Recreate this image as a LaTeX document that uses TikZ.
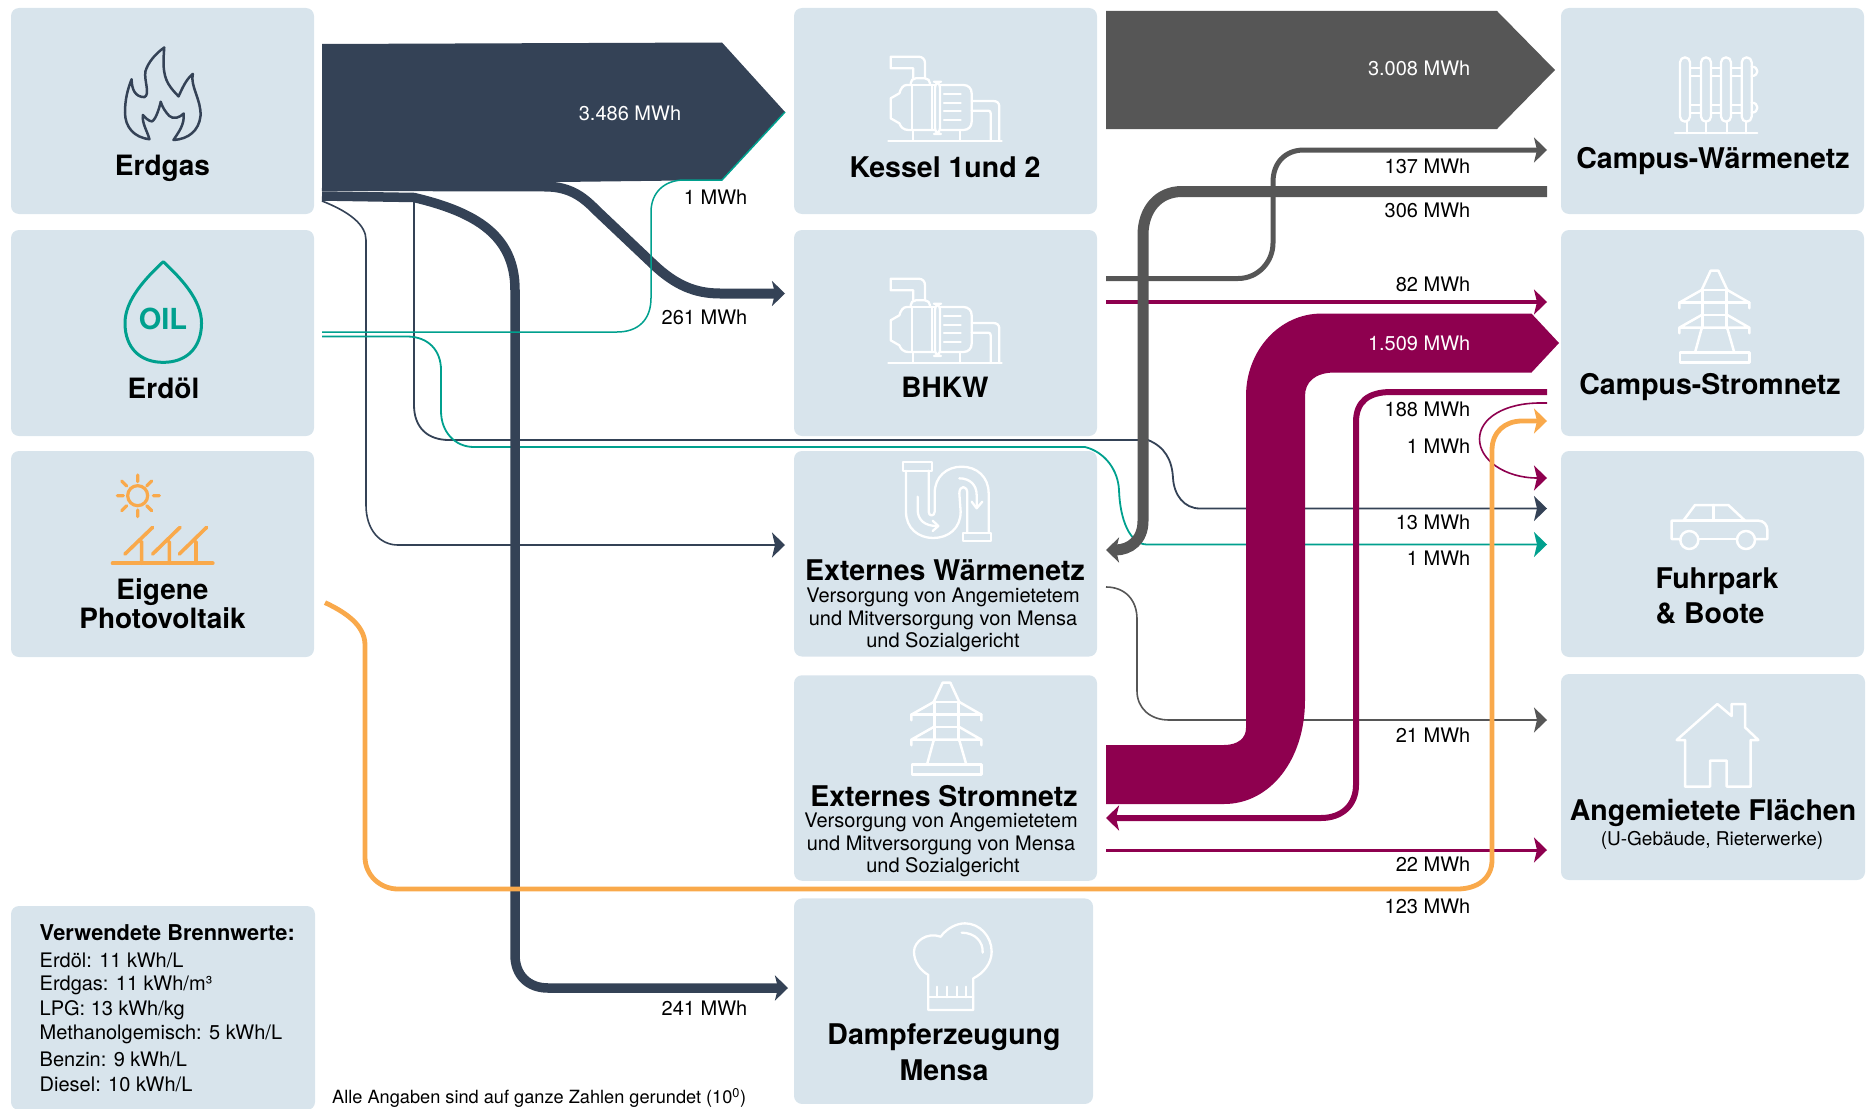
\documentclass[tikz,border=0pt]{standalone}
\usepackage{fontspec}
\setmainfont{TeX Gyre Heros}
\usetikzlibrary{arrows.meta}
\definecolor{boxblue}{HTML}{D8E4EC}
\definecolor{gasdark}{HTML}{344256}
\definecolor{heatgrey}{HTML}{565656}
\definecolor{powerred}{HTML}{8E004F}
\definecolor{oilteal}{HTML}{00A08E}
\definecolor{pvorange}{HTML}{F9A94B}
\tikzset{
  box/.style={rectangle,rounded corners=8pt,fill=boxblue,inner sep=0pt,minimum width=303pt,minimum height=206pt},
  title/.style={font=\fontsize{28.5}{33}\selectfont\bfseries,text=black,inner sep=0pt,anchor=center},
  sub/.style={font=\fontsize{20}{23}\selectfont,text=black,inner sep=0pt,anchor=center},
  val/.style={font=\fontsize{20}{23}\selectfont,text=black,inner sep=0pt,anchor=east},
  valw/.style={font=\fontsize{20}{23}\selectfont,text=white,inner sep=0pt,anchor=east},
  legend/.style={font=\fontsize{20}{23}\selectfont,text=black,inner sep=0pt,anchor=west},
  flowhead/.style={-{Stealth[length=13pt,width=25pt,inset=3pt]}},
  flow/.style={line cap=butt,line join=round},
  icon/.style={draw=white,line width=2.3pt,line join=round,line cap=round},
}
\newcommand{\pumpicon}[2]{\begin{scope}[shift={(#1,#2)},x=.3333pt,y=-.3333pt,icon]
  \draw (55,303)--(395,303);
  \draw (130,115)--(130,85)--(62,85)--(62,50)--(145,50) .. controls (158,50) and (165,58) .. (165,70)--(165,115);
  \draw[rounded corners=5pt] (122,133)--(122,115)--(180,115)--(180,133);
  \draw (122,135)--(110,135) .. controls (100,135) and (92,145) .. (88,160)--(62,175)--(62,235)--(88,250) .. controls (92,262) and (102,270) .. (115,270)--(195,270);
  \draw (125,135)--(125,270) (187,135)--(187,270) (122,135)--(195,135);
  \draw[rounded corners=6pt] (195,125) rectangle (210,282);
  \draw (210,135)--(280,135) .. controls (295,135) and (305,145) .. (305,160)--(305,245) .. controls (305,260) and (295,270) .. (280,270)--(210,270);
  \draw (222,163)--(272,163) (222,188)--(272,188) (222,214)--(272,214) (222,240)--(272,240);
  \draw (130,270)--(130,303) (270,270)--(270,303);
  \draw (305,183)--(370,183) .. controls (382,183) and (388,190) .. (388,200)--(388,303);
  \draw (305,212)--(355,212) .. controls (360,212) and (362,215) .. (362,220)--(362,303);
\end{scope}}
\newcommand{\pylonicon}[2]{\begin{scope}[shift={(#1,#2)},x=.3333pt,y=-.3333pt,icon,line width=2.5pt]
  \draw (118,145)--(118,128)--(185,90)--(212,32)--(235,32)--(262,90)--(328,128)--(328,145);
  \draw (185,90)--(262,90) (118,128)--(328,128) (185,165)--(262,165);
  \draw (118,220)--(118,203)--(185,165) (262,165)--(328,203)--(328,220) (118,203)--(328,203);
  \draw (188,90)--(188,205) (260,90)--(260,205);
  \draw (185,205)--(165,278) (262,205)--(283,278);
  \draw (120,278) rectangle (328,308);
\end{scope}}
\begin{document}
\begin{tikzpicture}[x=1pt,y=-1pt]
\useasboundingbox (0,0) rectangle (1868,1108);
% boxes
\node[box] (erdgas) at (162.5,111) {};
\node[box] (erdoel) at (162.5,333) {};
\node[box] (pv) at (162.5,554) {};
\node[box,minimum height=204pt,minimum width=304pt] (werte) at (163,1008) {};
\node[box] (kessel) at (945.5,111) {};
\node[box] (bhkw) at (945.5,333) {};
\node[box,minimum height=205.5pt] (extw) at (945.5,553.75) {};
\node[box,minimum height=205.5pt] (exts) at (945.5,778) {};
\node[box,minimum width=299pt,minimum height=205.5pt] (dampf) at (943.5,1001.2) {};
\node[box] (campw) at (1712.5,111) {};
\node[box] (camps) at (1712.5,333) {};
\node[box] (fuhr) at (1712.5,554) {};
\node[box,minimum width=304pt] (miet) at (1713,777) {};
% icons
\begin{scope}[x=.5102pt,y=-.357pt,draw=gasdark,line width=2.5pt,line join=round]
\draw (293,390) .. controls (262,385) and (245,355) .. (245,315) .. controls (245,280) and (250,250) .. (258,222)
 .. controls (258,250) and (265,272) .. (283,272) .. controls (295,265) and (282,225) .. (285,200) .. controls (290,175) and (305,150) .. (322,133)
 .. controls (320,170) and (318,205) .. (330,235) .. controls (336,250) and (345,262) .. (350,270) .. controls (358,245) and (365,222) .. (378,207)
 .. controls (372,240) and (395,280) .. (393,325) .. controls (390,365) and (370,390) .. (340,392)
 .. controls (350,370) and (362,350) .. (360,318) .. controls (352,330) and (340,335) .. (332,325) .. controls (325,315) and (318,300) .. (315,285)
 .. controls (312,305) and (305,335) .. (298,340) .. controls (292,340) and (285,330) .. (280,322) .. controls (278,345) and (288,365) .. (293,390) -- cycle;
\end{scope}
\begin{scope}[x=.5102pt,y=-.357pt,draw=oilteal,line width=3pt,line join=round]
\draw (320,733) .. controls (285,780) and (245,840) .. (245,905) .. controls (245,975) and (275,1015) .. (320,1015) .. controls (365,1015) and (395,975) .. (395,905) .. controls (395,840) and (355,780) .. (320,733) -- cycle;
\end{scope}
\node[font=\fontsize{29}{30}\selectfont\bfseries,text=oilteal,inner sep=0pt] (oiltext) at (163,319) {OIL};
\begin{scope}[shift={(90,460)},x=.3333pt,y=-.3333pt,draw=pvorange,line cap=round,line width=3.2pt]
\draw (143,107) circle[radius=10pt];
\draw (143,45)--(143,65) (143,150)--(143,170) (82,107)--(100,107) (190,107)--(208,107) (95,63)--(110,78) (185,63)--(170,78) (95,152)--(110,137) (185,152)--(170,137);
\draw[line width=4pt] (68,310)--(368,310);
\draw[line width=3.6pt] (105,282)--(188,202) (188,282)--(270,202) (268,282)--(350,202) (155,245)--(155,310) (238,245)--(238,310) (318,245)--(318,310);
\end{scope}
\pumpicon{870}{40}
\pumpicon{870}{262}
\begin{scope}[shift={(1640,40)},x=.3333pt,y=-.3333pt,icon]
\foreach \a/\b in {120/150,183/213,243/273,305/335}{\draw[rounded corners=5pt] (\a,52) rectangle (\b,245);}
\foreach \a/\b in {150/183,213/243,273/305}{\draw (\a,85)--(\b,85) (\a,108)--(\b,108) (\a,195)--(\b,195) (\a,218)--(\b,218);}
\draw (335,80) .. controls (358,80) and (358,108) .. (335,108);
\draw (335,188) .. controls (358,188) and (358,218) .. (335,218);
\draw (140,245)--(140,280) (197,245)--(197,280) (260,245)--(260,280) (317,245)--(317,280) (105,280)--(352,280);
\end{scope}
\pylonicon{1640}{260}
\pylonicon{872}{672}
\begin{scope}[shift={(870,450)},x=.3333pt,y=-.3333pt,icon]
\draw (100,35) rectangle (185,62);
\draw (280,248) rectangle (362,273);
\draw (108,62)--(108,185) .. controls (108,235) and (145,264) .. (190,264) .. controls (235,264) and (272,235) .. (272,185)--(268,130) .. controls (268,105) and (292,105) .. (292,130)--(292,248);
\draw (176,62)--(176,185) .. controls (176,200) and (194,200) .. (194,185)--(194,130) .. controls (194,80) and (230,50) .. (275,50) .. controls (320,50) and (356,80) .. (356,130)--(356,248);
\draw (143,140)--(143,180) .. controls (143,210) and (165,228) .. (200,228);
\draw (188,212)--(205,228)--(188,243);
\draw (268,85) .. controls (300,85) and (320,105) .. (320,135)--(320,170);
\draw (305,155)--(320,175)--(337,155);
\end{scope}
\begin{scope}[shift={(1650,490)},x=.3333pt,y=-.3333pt,icon,line width=2.5pt]
\draw (92,147)--(65,147)--(65,92)--(100,92)--(135,45)--(235,45)--(285,92)--(325,92) .. controls (342,92) and (352,105) .. (352,120)--(352,147)--(315,147);
\draw (100,92)--(285,92) (190,45)--(190,92) (145,147)--(262,147);
\draw (118,150) circle[radius=9pt] (288,150) circle[radius=9pt];
\end{scope}
\begin{scope}[shift={(1660,690)},x=.3333pt,y=-.3333pt,icon,line width=2.5pt]
\draw (50,150)--(172,42)--(215,78)--(215,42)--(255,42)--(255,112)--(295,150)--(272,150)--(272,290)--(200,290)--(200,212)--(150,212)--(150,290)--(75,290)--(75,150)--cycle;
\end{scope}
\begin{scope}[shift={(890,910)},x=.3333pt,y=-.3333pt,icon]
\draw (115,300)--(115,195) .. controls (90,180) and (72,155) .. (72,125) .. controls (72,95) and (110,65) .. (152,80) .. controls (170,55) and (200,40) .. (225,40) .. controls (270,40) and (305,80) .. (305,125) .. controls (305,160) and (280,190) .. (250,205)--(250,300)--cycle;
\draw (115,262)--(250,262) (140,230)--(140,262) (170,230)--(170,262) (200,230)--(200,262) (228,230)--(228,262);
\draw (215,68) .. controls (255,68) and (280,95) .. (278,128);
\end{scope}
% named ends
\coordinate (gasA) at (322,186);
\coordinate (gasB) at (322,196);
\coordinate (gasC) at (322,201);
\coordinate (gasD) at (414,195);
\coordinate (bhkwIn) at (785,293.5);
\coordinate (dampfIn) at (788,988);
\coordinate (extwIn) at (785,545);
\coordinate (fuhrGas) at (1547,508.5);
\coordinate (oilA) at (322,332);
\coordinate (oilB) at (322,336.5);
\coordinate (fuhrOil) at (1547,544.5);
\coordinate (heatA) at (1106,278.5);
\coordinate (heatAend) at (1547,150);
\coordinate (heatB) at (1547,191.5);
\coordinate (extwHeat) at (1106,550);
\coordinate (bhkwP) at (1106,302);
\coordinate (campsBhkw) at (1547,302);
\coordinate (extwOut) at (1106,587);
\coordinate (mietHeat) at (1547,720);
\coordinate (extsOut) at (1106,850);
\coordinate (mietP) at (1547,850);
\coordinate (campsA) at (1547,392);
\coordinate (extsIn) at (1106,818);
\coordinate (campsB) at (1547,403);
\coordinate (fuhrP) at (1547,478);
\coordinate (pvOut) at (325,602.6);
\coordinate (campsPv) at (1547,421);
% thin gas and oil
\draw[flow,draw=gasdark,line width=1.6pt,flowhead] (gasC) .. controls (350,212) and (366,225) .. (366,240) -- (366,505) .. controls (366,530) and (380,545) .. (398,545) -- (extwIn);
\draw[flow,draw=gasdark,line width=1.8pt,flowhead] (gasD) -- (414,405) .. controls (414,428) and (428,440) .. (449,440) -- (1148,440) .. controls (1165,447) and (1172,460) .. (1173,478) .. controls (1174,495) and (1184,508.5) .. (1200,508.5) -- (fuhrGas);
\draw[flow,draw=oilteal,line width=1.8pt,flowhead] (oilB) -- (408,336.5) .. controls (428,337) and (441,350) .. (441,370) -- (441,411) .. controls (441,432) and (455,447) .. (474,447) -- (1085,447) .. controls (1105,452) and (1118,470) .. (1119,490) .. controls (1120,520) and (1130,544.5) .. (1147,544.5) -- (fuhrOil);
% gas main
\fill[gasdark] (322,44) -- (722,42.5) -- (785,112) -- (722,180) -- (560,182) -- (322,182.5) -- cycle;
\draw[flow,draw=gasdark,line width=10pt,flowhead] (gasA) -- (545,186.5) .. controls (572,186.5) and (585,199) .. (597,211) -- (653,264) .. controls (675,285) and (695,293.5) .. (720,293.5) -- (bhkwIn);
\draw[flow,draw=gasdark,line width=9.5pt,flowhead] (gasB) -- (414,197.5) .. controls (475,212) and (515,235) .. (515,290) -- (515,955) .. controls (515,975) and (528,988) .. (548,988) -- (dampfIn);
\draw[flow,draw=oilteal,line width=1.5pt] (oilA) -- (617,332) .. controls (638,332) and (651,320) .. (651,298) -- (651,212) .. controls (651,192) and (665,180) .. (684,180) -- (722,180) -- (785,112);
% heat
\fill[heatgrey] (1106,11) -- (1497,11) -- (1555,70) -- (1497,129) -- (1106,129) -- cycle;
\draw[flow,draw=powerred,line width=3.5pt,flowhead] (bhkwP) -- (campsBhkw);
\draw[flow,draw=heatgrey,line width=5pt,flowhead] (heatA) -- (1238,278.5) .. controls (1258,278.5) and (1273,262) .. (1273,243) -- (1273,182) .. controls (1273,163) and (1285,150) .. (1304,150) -- (heatAend);
\draw[flow,draw=heatgrey,line width=11pt,flowhead] (heatB) -- (1182,191.5) .. controls (1158,191.5) and (1143,210) .. (1143,235) -- (1143,521) .. controls (1143,540) and (1130,550) .. (extwHeat);
\draw[flow,draw=heatgrey,line width=1.6pt,flowhead] (extwOut) .. controls (1125,587) and (1137,600) .. (1137,619) -- (1137,691) .. controls (1137,708) and (1150,720) .. (1169,720) -- (mietHeat);
% power
\draw[flow,draw=powerred,line width=1.6pt,flowhead] (campsB) -- (1540,403) .. controls (1505,403) and (1479.5,418) .. (1479.5,439) .. controls (1479.5,460) and (1505,478) .. (fuhrP);
\draw[flow,draw=powerred,line width=3pt,flowhead] (extsOut) -- (mietP);
\fill[powerred] (1106,745) -- (1224,745) .. controls (1238,745) and (1246,738) .. (1246,728) -- (1246,396) .. controls (1246,350) and (1280,313.6) .. (1321,313.6) -- (1531.5,313.6) -- (1559,343) -- (1531.5,372.5) -- (1335,372.5) .. controls (1315,372.5) and (1305,382) .. (1305,396) -- (1305,700) .. controls (1305,760) and (1270,804) .. (1224,804) -- (1106,804) -- cycle;
\draw[flow,draw=powerred,line width=6pt,flowhead] (campsA) -- (1391,392) .. controls (1368,392) and (1356,402) .. (1356,422) -- (1356,785) .. controls (1356,805) and (1342,818) .. (1321,818) -- (extsIn);
\draw[flow,draw=pvorange,line width=4.8pt,flowhead] (pvOut) .. controls (345,612) and (365,625) .. (365,645) -- (365,857) .. controls (365,875) and (380,889) .. (398,889) -- (1457,889) .. controls (1478,889) and (1492,878) .. (1492,860) -- (1492,450) .. controls (1492,432) and (1505,421) .. (1522,421) -- (campsPv);
% texts
\node[title,font=\fontsize{28}{33}\selectfont\bfseries] (t1) at (162.5,168) {Erdgas};
\node[title,font=\fontsize{28}{33}\selectfont\bfseries] (t2) at (163.5,388) {Erdöl};
\node[title,font=\fontsize{28}{33}\selectfont\bfseries] (t3a) at (162.5,592) {Eigene};
\node[title,font=\fontsize{28}{33}\selectfont\bfseries] (t3b) at (162.5,618) {Photovoltaik};
\node[title] (t4) at (945,167) {Kessel 1und 2};
\node[title,font=\fontsize{28}{33}\selectfont\bfseries] (t5) at (945,387) {BHKW};
\node[title] (t6) at (945,570) {Externes Wärmenetz};
\node[sub] (t6a) at (943,597) {Versorgung von Angemietetem};
\node[sub] (t6b) at (943,620) {und Mitversorgung von Mensa};
\node[sub] (t6c) at (943,642) {und Sozialgericht};
\node[title] (t7) at (944,796) {Externes Stromnetz};
\node[sub] (t7a) at (941,822) {Versorgung von Angemietetem};
\node[sub] (t7b) at (941,845) {und Mitversorgung von Mensa};
\node[sub] (t7c) at (943,867) {und Sozialgericht};
\node[title] (t8a) at (944,1037) {Dampferzeugung};
\node[title] (t8b) at (944,1070) {Mensa};
\node[title] (t9) at (1713,161) {Campus-Wärmenetz};
\node[title] (t10) at (1710,387) {Campus-Stromnetz};
\node[title] (t11a) at (1717,581) {Fuhrpark};
\node[title] (t11b) at (1710,613.4) {\& Boote};
\node[title] (t12) at (1713,813) {Angemietete Flächen};
\node[sub,font=\fontsize{19}{21}\selectfont] (t12a) at (1712,840.5) {(U-Gebäude, Rieterwerke)};
% values
\node[valw,anchor=center] (v0) at (630,113) {3.486 MWh};
\node[val] (v1) at (747.5,197.5) {1 MWh};
\node[val] (v2) at (747.5,317) {261 MWh};
\node[val] (v3) at (747.5,1008) {241 MWh};
\node[valw] (v4) at (1470.5,68) {3.008 MWh};
\node[val] (v5) at (1470.5,166) {137 MWh};
\node[val] (v6) at (1470.5,210) {306 MWh};
\node[val] (v7) at (1470.5,284) {82 MWh};
\node[valw] (v8) at (1470.5,343) {1.509 MWh};
\node[val] (v9) at (1470.5,409) {188 MWh};
\node[val] (v10) at (1470.5,446) {1 MWh};
\node[val] (v11) at (1470.5,522) {13 MWh};
\node[val] (v12) at (1470.5,558) {1 MWh};
\node[val] (v13) at (1470.5,735) {21 MWh};
\node[val] (v14) at (1470.5,864) {22 MWh};
\node[val] (v15) at (1470.5,906.5) {123 MWh};
% legend
\node[legend,font=\fontsize{21.8}{24}\selectfont\bfseries] (l0) at (39.5,933) {Verwendete Brennwerte:};
\node[legend] (l1) at (39.5,960) {Erdöl: 11 kWh/L};
\node[legend] (l2) at (39.5,985) {Erdgas: 11 kWh/m³};
\node[legend] (l3) at (39.5,1010) {LPG: 13 kWh/kg};
\node[legend] (l4) at (39.5,1034) {Methanolgemisch: 5 kWh/L};
\node[legend] (l5) at (39.5,1059) {Benzin: 9 kWh/L};
\node[legend] (l6) at (39.5,1084) {Diesel: 10 kWh/L};
\node[legend,font=\fontsize{18.2}{22}\selectfont] (note) at (332,1098) {Alle Angaben sind auf ganze Zahlen gerundet (10\textsuperscript{0})};
\end{tikzpicture}
\end{document}
